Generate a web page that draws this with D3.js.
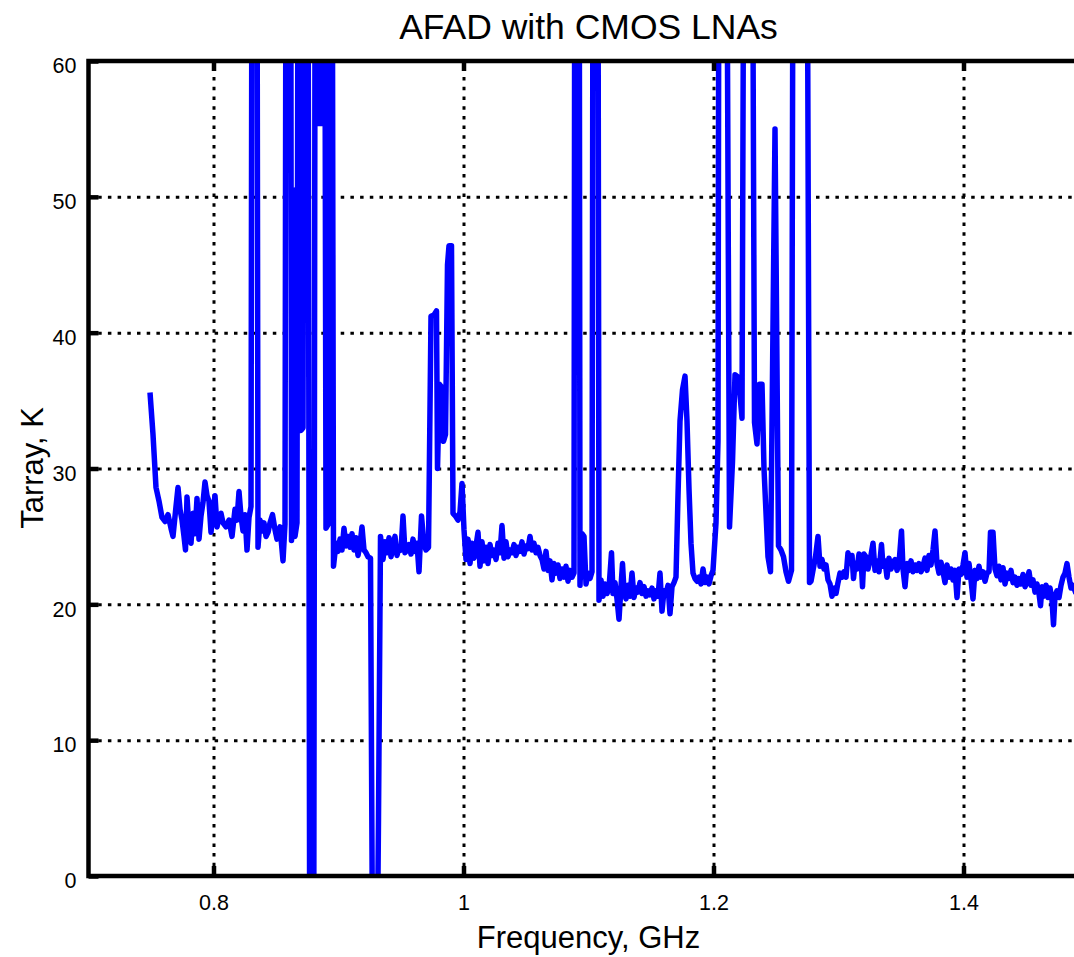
<!DOCTYPE html>
<html>
<head>
<meta charset="utf-8">
<script src="https://cdnjs.cloudflare.com/ajax/libs/d3/7.8.5/d3.min.js"></script>
<style>
    body { margin: 0; background: #fff; }
    text { font-family: "Liberation Sans", Arial, Helvetica, sans-serif; fill: #000; }
    .grid line { stroke: #000; stroke-width: 3; stroke-dasharray: 3.5, 6.2; }
    .grid path { display: none; }
    .tick-axis path { display: none; }
    .tick-axis line { stroke: #000; stroke-width: 4.5; }
    .tick-axis text { font-size: 21.5px; }
</style>
</head>
<body>
<div id="wrapper"></div>
<script>
// frequency (GHz) and array temperature (K); 120 / -20 = off scale
const freqGHz = [
    0.7492, 0.7516, 0.7540, 0.7564, 0.7588, 0.7612, 0.7636, 0.7660, 0.7676, 0.7700,
    0.7716, 0.7732, 0.7748, 0.7764, 0.7776, 0.7788, 0.7804, 0.7820, 0.7836, 0.7852,
    0.7868, 0.7884, 0.7900, 0.7916, 0.7932, 0.7948, 0.7964, 0.7980, 0.7996, 0.8012,
    0.8028, 0.8044, 0.8060, 0.8076, 0.8100, 0.8124, 0.8148, 0.8172, 0.8188, 0.8204,
    0.8220, 0.8236, 0.8252, 0.8268, 0.8284, 0.8300, 0.8316, 0.8340, 0.8356, 0.8372,
    0.8388, 0.8404, 0.8420, 0.8436, 0.8452, 0.8472, 0.8492, 0.8508, 0.8532, 0.8556,
    0.8572, 0.8588, 0.8612, 0.8624, 0.8640, 0.8652, 0.8668, 0.8684, 0.8700, 0.8716,
    0.8732, 0.8748, 0.8772, 0.8800, 0.8820, 0.8840, 0.8864, 0.8880, 0.8900, 0.8924,
    0.8940, 0.8960,
    0.8980, 0.8996, 0.9012, 0.9028, 0.9044, 0.9060, 0.9076, 0.9092, 0.9108, 0.9124,
    0.9140, 0.9156, 0.9172, 0.9188, 0.9204, 0.9220, 0.9236, 0.9256, 0.9280, 0.9298,
    0.9320, 0.9336, 0.9356, 0.9372, 0.9388, 0.9404, 0.9420, 0.9436, 0.9452, 0.9468,
    0.9484, 0.9500, 0.9516, 0.9532, 0.9548, 0.9564, 0.9580, 0.9596, 0.9612, 0.9628,
    0.9644, 0.9664, 0.9684, 0.9700, 0.9720, 0.9740, 0.9764, 0.9784, 0.9792, 0.9808,
    0.9824, 0.9840, 0.9856, 0.9872, 0.9884, 0.9904, 0.9916, 0.9936, 0.9956, 0.9972,
    0.9988, 1.0004, 1.0020,
    1.0036, 1.0052, 1.0068, 1.0084, 1.0100, 1.0116, 1.0132, 1.0148, 1.0164, 1.0180,
    1.0196, 1.0212, 1.0228, 1.0244, 1.0260, 1.0276, 1.0292, 1.0308, 1.0324, 1.0340,
    1.0356, 1.0372, 1.0388, 1.0404, 1.0420, 1.0436, 1.0452, 1.0468, 1.0484, 1.0500,
    1.0516, 1.0532, 1.0548, 1.0564, 1.0580, 1.0596, 1.0612, 1.0628, 1.0644, 1.0660,
    1.0676, 1.0692, 1.0708, 1.0724, 1.0740, 1.0756, 1.0772, 1.0788, 1.0804, 1.0820,
    1.0836, 1.0852, 1.0868, 1.0884, 1.0896, 1.0920, 1.0932, 1.0948, 1.0964, 1.0980,
    1.0996, 1.1012, 1.1028, 1.1044, 1.1068, 1.1084,
    1.1100, 1.1116, 1.1132, 1.1148, 1.1164, 1.1184, 1.1196, 1.1212, 1.1228, 1.1244,
    1.1260, 1.1272, 1.1284, 1.1300, 1.1316, 1.1332, 1.1348, 1.1364, 1.1380, 1.1396,
    1.1412, 1.1428, 1.1444, 1.1460, 1.1476, 1.1492, 1.1508, 1.1524, 1.1540, 1.1556,
    1.1572, 1.1588, 1.1604, 1.1620, 1.1636, 1.1652, 1.1668, 1.1684, 1.1700, 1.1716,
    1.1732, 1.1752, 1.1772, 1.1788, 1.1804, 1.1820, 1.1836, 1.1852, 1.1868, 1.1884,
    1.1900, 1.1916, 1.1932, 1.1948, 1.1964, 1.1980, 1.1996, 1.2020, 1.2036, 1.2052,
    1.2084, 1.2128, 1.2152, 1.2172, 1.2200, 1.2228, 1.2260, 1.2292, 1.2328, 1.2348,
    1.2368, 1.2388, 1.2404, 1.2436, 1.2456, 1.2492, 1.2520, 1.2540, 1.2560, 1.2580,
    1.2600, 1.2624, 1.2648, 1.2732, 1.2768,
    1.2780, 1.2796, 1.2816, 1.2836, 1.2852, 1.2868, 1.2884, 1.2900, 1.2916, 1.2932,
    1.2948, 1.2968, 1.2980, 1.2996, 1.3012, 1.3028, 1.3044, 1.3060, 1.3076, 1.3092,
    1.3108, 1.3120, 1.3132, 1.3148, 1.3164, 1.3180, 1.3192, 1.3204, 1.3220, 1.3236,
    1.3252, 1.3276, 1.3292, 1.3308, 1.3324, 1.3344, 1.3356, 1.3372, 1.3388, 1.3404,
    1.3420, 1.3436, 1.3452, 1.3468, 1.3484, 1.3504, 1.3516, 1.3532, 1.3548, 1.3564,
    1.3580, 1.3596, 1.3612, 1.3628, 1.3644, 1.3660, 1.3676, 1.3692, 1.3708, 1.3724,
    1.3740, 1.3756, 1.3772, 1.3788, 1.3804, 1.3820, 1.3836, 1.3852, 1.3868, 1.3884,
    1.3900, 1.3916, 1.3932, 1.3948, 1.3964, 1.3980, 1.3996, 1.4012, 1.4028, 1.4044,
    1.4060, 1.4076, 1.4092, 1.4108, 1.4124, 1.4140, 1.4156, 1.4172, 1.4188, 1.4204,
    1.4216, 1.4236, 1.4252, 1.4268, 1.4284, 1.4300, 1.4316, 1.4332, 1.4348, 1.4364,
    1.4380, 1.4396, 1.4412, 1.4428, 1.4444, 1.4460, 1.4476, 1.4492, 1.4508, 1.4524,
    1.4540, 1.4556, 1.4572, 1.4588, 1.4604, 1.4616, 1.4628, 1.4644, 1.4660, 1.4676,
    1.4692, 1.4708, 1.4720, 1.4732, 1.4748, 1.4764, 1.4780, 1.4796, 1.4812, 1.4828,
    1.4844, 1.4860, 1.4876, 1.4900
];

const tarrayK = [
    35.6, 32.5, 28.6, 27.6, 26.4, 26.1, 26.6, 25.6, 25.0, 27.2,
    28.6, 27.0, 26.2, 25.0, 24.0, 27.9, 25.6, 24.5, 26.7, 25.2,
    27.8, 24.8, 26.5, 27.5, 29.0, 28.0, 27.6, 25.3, 26.8, 28.0,
    25.7, 26.4, 26.7, 26.0, 25.7, 26.2, 25.0, 27.0, 26.2, 28.3,
    26.5, 25.4, 26.6, 24.0, 26.4, 27.2, 120, 120, 24.2, 26.2,
    25.4, 26.0, 25.0, 25.3, 26.0, 26.6, 25.5, 24.8, 25.7, 23.2,
    25.9, 120, 120, 24.7, 50.5, 25.0, 26.0, 120, 32.8, 33.0,
    120, 120, -20, -20, 120, 55.4, 55.4, 120, 25.6, 26.0,
    120, 22.8,
    24.5, 23.9, 24.8, 24.0, 25.6, 24.3, 25.0, 24.2, 25.2, 24.0,
    24.9, 23.6, 24.4, 25.7, 24.0, 23.8, 23.5, 23.4, -20, -20,
    4.3, 25.0, 23.3, 24.6, 23.8, 24.9, 23.5, 24.4, 25.0, 23.6,
    24.2, 24.0, 26.5, 23.8, 24.0, 24.4, 23.7, 24.8, 23.9, 24.5,
    22.4, 26.5, 24.4, 24.0, 24.2, 41.2, 41.3, 41.6, 30.0, 36.2,
    36.0, 32.0, 32.5, 45.0, 46.4, 46.4, 26.7, 26.5, 26.2, 26.8,
    28.9, 25.5, 23.3,
    24.8, 23.0, 24.5, 23.4, 24.3, 25.3, 22.8, 24.6, 23.2, 24.2,
    23.0, 24.4, 23.6, 24.0, 23.3, 24.5, 23.8, 25.8, 23.4, 24.6,
    23.5, 24.0, 23.8, 24.4, 23.6, 24.2, 23.9, 24.6, 23.7, 24.3,
    24.1, 25.0, 24.0, 24.5, 23.8, 24.2, 23.6, 23.3, 22.6, 23.9,
    22.5, 23.2, 21.8, 23.0, 22.3, 22.9, 21.9, 22.6, 22.0, 22.8,
    21.7, 22.5, 22.0, 22.3, 120, 120, 21.4, 25.2, 25.0, 21.5,
    22.3, 21.9, 22.4, 120, 120, 20.3,
    21.8, 20.6, 21.5, 20.8, 21.2, 23.8, 20.8, 21.6, 20.4, 18.9,
    21.3, 23.0, 21.0, 20.4, 21.4, 20.6, 22.3, 20.5, 21.2, 20.9,
    21.6, 20.8, 21.3, 20.6, 21.0, 20.7, 21.2, 20.4, 21.0, 20.6,
    22.3, 19.5, 21.0, 20.8, 21.4, 19.3, 21.3, 21.6, 22.0, 28.0,
    33.5, 35.8, 36.8, 33.5, 28.5, 24.5, 22.3, 21.9, 21.7, 22.0,
    21.5, 22.6, 21.6, 22.0, 21.5, 22.1, 22.5, 26.0, 32.0, 120,
    120, 25.7, 30.5, 36.9, 36.7, 33.7, 120, 120, 33.4, 31.8,
    36.2, 36.2, 30.0, 23.5, 22.4, 55.0, 24.3, 24.0, 23.5, 22.4,
    21.7, 22.5, 120, 120, 21.6,
    21.7, 22.5, 23.5, 25.0, 22.8, 23.3, 22.6, 22.9, 21.8, 21.5,
    20.6, 21.2, 20.8, 21.6, 22.3, 22.0, 22.4, 22.0, 23.8, 23.0,
    23.6, 21.9, 23.0, 22.6, 23.7, 23.4, 21.3, 23.7, 23.5, 22.6,
    23.2, 24.5, 22.5, 23.2, 22.4, 24.4, 22.8, 23.2, 22.0, 23.4,
    22.6, 23.0, 23.3, 22.5, 23.0, 25.4, 22.6, 21.3, 23.0, 22.5,
    23.2, 22.4, 22.9, 22.5, 23.0, 22.4, 22.8, 23.4, 22.5, 23.6,
    22.9, 24.0, 25.4, 23.0, 22.3, 23.1, 22.4, 21.6, 22.9, 22.0,
    22.6, 21.8, 22.5, 20.5, 22.6, 22.2, 22.9, 23.8, 22.0, 23.0,
    21.8, 20.4, 22.5, 21.9, 22.8, 22.0, 22.4, 21.7, 22.3, 22.4,
    25.3, 25.3, 22.6, 22.1, 22.8, 21.8, 22.7, 21.5, 22.3, 21.9,
    22.5, 21.6, 22.0, 21.4, 21.9, 21.5, 22.2, 21.3, 21.7, 22.4,
    21.4, 21.8, 20.9, 21.5, 20.8, 19.9, 21.3, 20.6, 21.4, 20.5,
    21.2, 20.3, 18.5, 20.6, 21.0, 20.5, 21.4, 22.0, 22.3, 23.0,
    22.0, 21.2, 21.4, 20.8
];

const xTicks = [0.8, 1, 1.2, 1.4];
const yTicks = [0, 10, 20, 30, 40, 50, 60];
const xDomain = [0.7, 1.5];
const yDomain = [0, 60];

const titleText = "AFAD with CMOS LNAs";
const xLabelText = "Frequency, GHz";
const yLabelText = "Tarray, K";

function draw() {
    const data = freqGHz.map((f, i) => ({ f: f, t: tarrayK[i] }));
    const xAccessor = d => d.f;
    const yAccessor = d => d.t;

    let dimensions = {
        width: 1074,
        height: 957,
        margin: { top: 61, left: 88.5 },
        boundedWidth: 1000,
        boundedHeight: 815,
    };

    const wrapper = d3.select("#wrapper")
        .append("svg")
        .attr("width", dimensions.width)
        .attr("height", dimensions.height)
        .style("display", "block");

    const bounds = wrapper.append("g")
        .attr("transform", `translate(${dimensions.margin.left}, ${dimensions.margin.top})`);

    const xScale = d3.scaleLinear()
        .domain(xDomain)
        .range([0, dimensions.boundedWidth]);

    const yScale = d3.scaleLinear()
        .domain(yDomain)
        .range([dimensions.boundedHeight, 0]);

    bounds.append("defs").append("clipPath")
        .attr("id", "plot-clip")
        .append("rect")
        .attr("width", dimensions.boundedWidth)
        .attr("height", dimensions.boundedHeight);

    // dotted grid
    bounds.append("g")
        .attr("class", "grid")
        .attr("transform", `translate(0, ${dimensions.boundedHeight})`)
        .call(d3.axisBottom(xScale).tickValues(xTicks)
            .tickSize(-dimensions.boundedHeight).tickFormat(""));

    bounds.append("g")
        .attr("class", "grid")
        .call(d3.axisLeft(yScale).tickValues(yTicks.filter(d => d > 0 && d < 60))
            .tickSize(-dimensions.boundedWidth).tickFormat(""));

    // the trace
    const lineGenerator = d3.line()
        .x(d => xScale(xAccessor(d)))
        .y(d => yScale(yAccessor(d)));

    bounds.append("path")
        .datum(data)
        .attr("clip-path", "url(#plot-clip)")
        .attr("d", lineGenerator)
        .attr("fill", "none")
        .attr("stroke", "#0000ff")
        .attr("stroke-width", 5.5)
        .attr("stroke-linejoin", "round");

    // axes with inward ticks
    const tickLen = 10;

    bounds.append("g")
        .attr("class", "tick-axis")
        .attr("transform", `translate(0, ${dimensions.boundedHeight})`)
        .call(d3.axisBottom(xScale).tickValues(xTicks)
            .tickSizeInner(-tickLen).tickSizeOuter(0).tickPadding(19)
            .tickFormat(d => String(d)));

    bounds.append("g")
        .attr("class", "tick-axis")
        .call(d3.axisTop(xScale).tickValues(xTicks)
            .tickSizeInner(-tickLen).tickSizeOuter(0).tickFormat(""));

    const yAxis = bounds.append("g")
        .attr("class", "tick-axis")
        .call(d3.axisLeft(yScale).tickValues(yTicks)
            .tickSizeInner(-tickLen).tickSizeOuter(0).tickPadding(12)
            .tickFormat(d => String(d)));
    yAxis.selectAll("text").attr("dy", "0.55em");

    bounds.append("g")
        .attr("class", "tick-axis")
        .attr("transform", `translate(${dimensions.boundedWidth}, 0)`)
        .call(d3.axisRight(yScale).tickValues(yTicks)
            .tickSizeInner(-tickLen).tickSizeOuter(0).tickFormat(""));

    // box
    bounds.append("rect")
        .attr("width", dimensions.boundedWidth)
        .attr("height", dimensions.boundedHeight)
        .attr("fill", "none")
        .attr("stroke", "#000")
        .attr("stroke-width", 4.5);

    // labels
    wrapper.append("text")
        .attr("x", dimensions.margin.left + dimensions.boundedWidth / 2)
        .attr("y", 39)
        .attr("text-anchor", "middle")
        .style("font-size", "35.5px")
        .text(titleText);

    wrapper.append("text")
        .attr("x", dimensions.margin.left + dimensions.boundedWidth / 2)
        .attr("y", 948)
        .attr("text-anchor", "middle")
        .style("font-size", "31px")
        .text(xLabelText);

    wrapper.append("text")
        .attr("transform", `translate(43, ${dimensions.margin.top + dimensions.boundedHeight / 2 - 0.5}) rotate(-90)`)
        .attr("text-anchor", "middle")
        .style("font-size", "31px")
        .text(yLabelText);
}
draw();
</script>
</body>
</html>
